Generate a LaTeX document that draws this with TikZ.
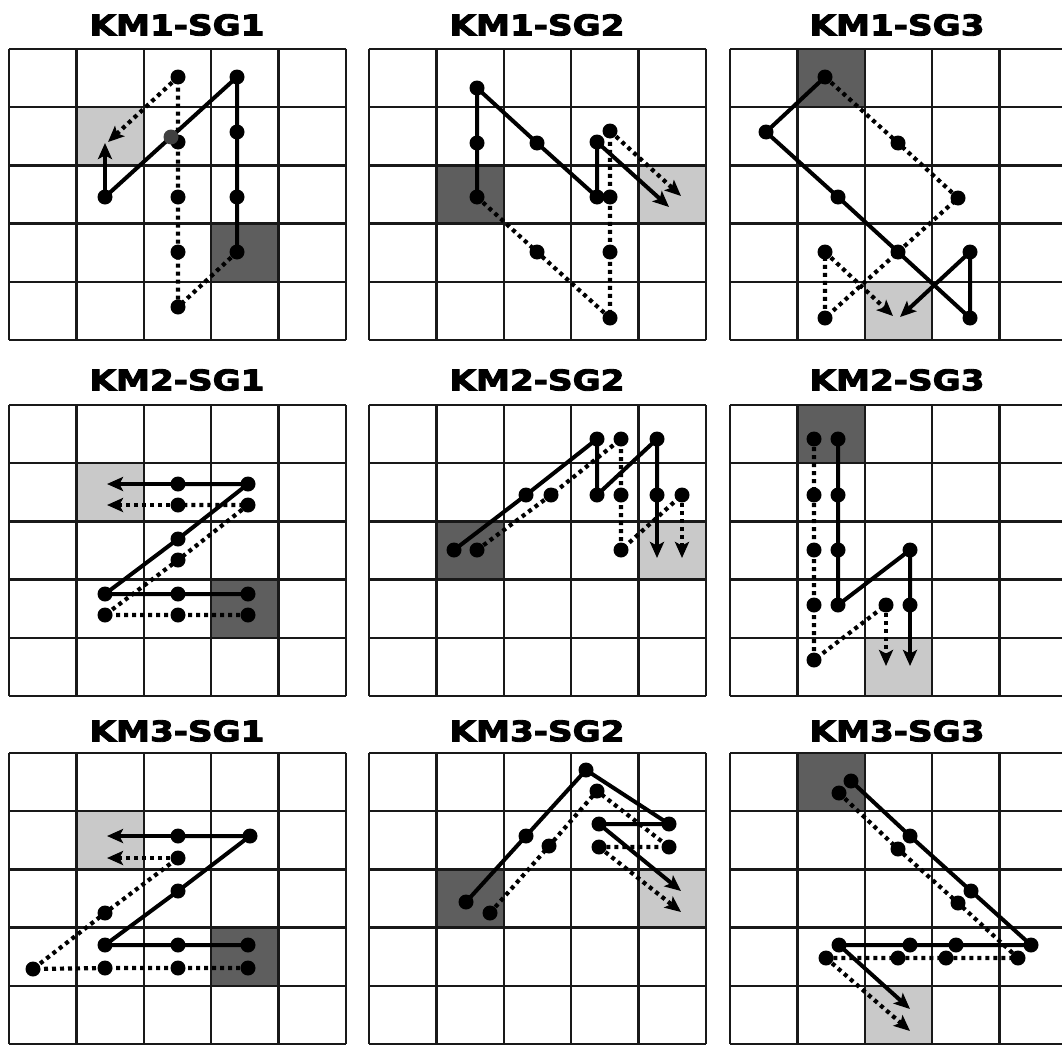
\documentclass[tikz,border=0pt]{standalone}
\usepackage{graphicx}
\usepackage{fontspec}
\usetikzlibrary{arrows.meta}
\newfontfamily\titlefont{DejaVu Sans}[BoldFeatures={FakeBold=3}]
\definecolor{darkcell}{HTML}{5E5E5E}
\definecolor{lightcell}{HTML}{C9C9C9}
\newcommand\cw{67.4}
\newcommand\ch{58.2}
\newcommand\panelgrid[2]{%
  \foreach \i in {0,...,5}{%
    \draw[gridline] ({#1+\i*\cw},#2) -- ({#1+\i*\cw},{#2+5*\ch});
    \draw[gridline] (#1,{#2+\i*\ch}) -- ({#1+5*\cw},{#2+\i*\ch});
  }}
\newcommand\shadecell[5]{% x0 y0 col row colour
  \fill[#5] ({#1+#3*\cw},{#2+#4*\ch}) rectangle ({#1+(#3+1)*\cw},{#2+(#4+1)*\ch});}
\newcommand\ttl[1]{\scalebox{1.2}[1]{\titlefont\bfseries\fontsize{28.5}{28.5}\selectfont #1}}
\begin{document}
\begin{tikzpicture}[x=1pt,y=-1pt,
  gridline/.style={line width=2.3pt,color=black!90},
  dot/.style={circle,fill=black,inner sep=0pt,minimum size=15pt},
  greydot/.style={dot,fill=black!75},
  solidln/.style={line width=4pt,line join=round},
  dotln/.style={line width=4.2pt,dash pattern=on 4pt off 4pt},
  arr/.style={-{Stealth[length=16pt,width=14pt,inset=3.5pt]}},
  title/.style={inner sep=0pt,anchor=center}]
\fill[white] (0,0) rectangle (1062,1044);
\useasboundingbox (0,0) rectangle (1062,1044);
\begin{scope}
\clip (0,0) rectangle (1062,1044);
% shaded cells
\shadecell{9}{49}{1}{1}{lightcell}
\shadecell{9}{49}{3}{3}{darkcell}
\shadecell{369}{49}{1}{2}{darkcell}
\shadecell{369}{49}{4}{2}{lightcell}
\shadecell{730}{49}{1}{0}{darkcell}
\shadecell{730}{49}{2}{4}{lightcell}
\shadecell{9}{405}{1}{1}{lightcell}
\shadecell{9}{405}{3}{3}{darkcell}
\shadecell{369}{405}{1}{2}{darkcell}
\shadecell{369}{405}{4}{2}{lightcell}
\shadecell{730}{405}{1}{0}{darkcell}
\shadecell{730}{405}{2}{4}{lightcell}
\shadecell{9}{753}{1}{1}{lightcell}
\shadecell{9}{753}{3}{3}{darkcell}
\shadecell{369}{753}{1}{2}{darkcell}
\shadecell{369}{753}{4}{2}{lightcell}
\shadecell{730}{753}{1}{0}{darkcell}
\shadecell{730}{753}{2}{4}{lightcell}
% grids
\panelgrid{9}{49}\panelgrid{369}{49}\panelgrid{730}{49}
\panelgrid{9}{405}\panelgrid{369}{405}\panelgrid{730}{405}
\panelgrid{9}{753}\panelgrid{369}{753}\panelgrid{730}{753}
\end{scope}
% titles
\node[title] (t11) at (177,25) {\ttl{KM1-SG1}};
\node[title] (t12) at (537,25) {\ttl{KM1-SG2}};
\node[title] (t13) at (897,25) {\ttl{KM1-SG3}};
\node[title] (t21) at (177,380) {\ttl{KM2-SG1}};
\node[title] (t22) at (537,380) {\ttl{KM2-SG2}};
\node[title] (t23) at (897,380) {\ttl{KM2-SG3}};
\node[title] (t31) at (177,731) {\ttl{KM3-SG1}};
\node[title] (t32) at (537,731) {\ttl{KM3-SG2}};
\node[title] (t33) at (897,731) {\ttl{KM3-SG3}};

% ---------- Panel KM1-SG1 ----------
\coordinate (A1) at (237,252); \coordinate (A2) at (237,197);
\coordinate (A3) at (237,132); \coordinate (A4) at (237,77);
\coordinate (A5) at (171,137); \coordinate (A6) at (105,197);
\coordinate (A7) at (105,143);
\coordinate (B1) at (178,307); \coordinate (B2) at (178,252);
\coordinate (B3) at (178,197); \coordinate (B4) at (178,142);
\coordinate (B5) at (178,77);  \coordinate (B6) at (108,142);
\draw[dotln] (A1) -- (B1) -- (B2) -- (B3) -- (B4) -- (B5);
\draw[dotln,arr] (B5) -- (B6);
\draw[solidln] (A1) -- (A2) -- (A3) -- (A4) -- (A5) -- (A6);
\draw[solidln,arr] (A6) -- (A7);
\foreach \p in {B1,B2,B3,B4,B5,A1,A2,A3,A4,A6} \node[dot] at (\p) {};
\node[greydot] (A5d) at (A5) {};

% ---------- Panel KM1-SG2 ----------
\coordinate (C1) at (477,197); \coordinate (C2) at (477,143);
\coordinate (C3) at (477,88);  \coordinate (C4) at (537,143);
\coordinate (C5) at (597,197); \coordinate (C6) at (597,142);
\coordinate (C7) at (669,207);
\coordinate (D1) at (537,252); \coordinate (D2) at (610,318);
\coordinate (D3) at (610,252); \coordinate (D4) at (610,197);
\coordinate (D5) at (610,131); \coordinate (D6) at (681,196);
\draw[dotln] (C1) -- (D1) -- (D2) -- (D3) -- (D4) -- (D5);
\draw[dotln,arr] (D5) -- (D6);
\draw[solidln] (C1) -- (C2) -- (C3) -- (C4) -- (C5) -- (C6);
\draw[solidln,arr] (C6) -- (C7);
\foreach \p in {C1,C2,C3,C4,C5,C6,D1,D2,D3,D4,D5} \node[dot] at (\p) {};

% ---------- Panel KM1-SG3 ----------
\coordinate (E1) at (825,77);  \coordinate (E2) at (766,132);
\coordinate (E3) at (838,197); \coordinate (E4) at (898,252);
\coordinate (E5) at (970,318); \coordinate (E6) at (970,252);
\coordinate (E7) at (900,317);
\coordinate (F1) at (898,143); \coordinate (F2) at (958,198);
\coordinate (F3) at (825,318); \coordinate (F4) at (825,252);
\coordinate (F5) at (893,316);
\draw[dotln] (E1) -- (F1) -- (F2) -- (E4) -- (F3) -- (F4);
\draw[dotln,arr] (F4) -- (F5);
\draw[solidln] (E1) -- (E2) -- (E3) -- (E4) -- (E5) -- (E6);
\draw[solidln,arr] (E6) -- (E7);
\foreach \p in {E1,E2,E3,E4,E5,E6,F1,F2,F3,F4} \node[dot] at (\p) {};

% ---------- Panel KM2-SG1 ----------
\coordinate (G1) at (248,594); \coordinate (G2) at (178,594);
\coordinate (G3) at (105,594); \coordinate (G4) at (178,539);
\coordinate (G5) at (248,484); \coordinate (G6) at (178,484);
\coordinate (G7) at (107,484);
\coordinate (H1) at (248,615); \coordinate (H2) at (178,615);
\coordinate (H3) at (105,615); \coordinate (H4) at (178,560);
\coordinate (H5) at (248,505); \coordinate (H6) at (178,505);
\coordinate (H7) at (107,505);
\draw[dotln] (H1) -- (H2) -- (H3) -- (H4) -- (H5) -- (H6);
\draw[dotln,arr] (H6) -- (H7);
\draw[solidln] (G1) -- (G2) -- (G3) -- (G4) -- (G5) -- (G6);
\draw[solidln,arr] (G6) -- (G7);
\foreach \p in {G1,G2,G3,G4,G5,G6,H1,H2,H3,H4,H5,H6} \node[dot] at (\p) {};

% ---------- Panel KM2-SG2 ----------
\coordinate (I1) at (454,550); \coordinate (I2) at (526,495);
\coordinate (I3) at (597,439); \coordinate (I4) at (597,495);
\coordinate (I5) at (657,439); \coordinate (I6) at (657,495);
\coordinate (I7) at (657,558);
\coordinate (J1) at (477,550); \coordinate (J2) at (551,495);
\coordinate (J3) at (621,439); \coordinate (J4) at (621,495);
\coordinate (J5) at (621,550); \coordinate (J6) at (682,495);
\coordinate (J7) at (682,558);
\draw[dotln] (J1) -- (J2) -- (J3) -- (J4) -- (J5) -- (J6);
\draw[dotln,arr] (J6) -- (J7);
\draw[solidln] (I1) -- (I2) -- (I3) -- (I4) -- (I5) -- (I6);
\draw[solidln,arr] (I6) -- (I7);
\foreach \p in {I1,I2,I3,I4,I5,I6,J1,J2,J3,J4,J5,J6} \node[dot] at (\p) {};

% ---------- Panel KM2-SG3 ----------
\coordinate (K1) at (838,439); \coordinate (K2) at (838,495);
\coordinate (K3) at (838,550); \coordinate (K4) at (838,605);
\coordinate (K5) at (910,550); \coordinate (K6) at (910,605);
\coordinate (K7) at (910,666);
\coordinate (L1) at (814,439); \coordinate (L2) at (814,495);
\coordinate (L3) at (814,550); \coordinate (L4) at (814,605);
\coordinate (L5) at (814,660); \coordinate (L6) at (886,605);
\coordinate (L7) at (886,666);
\draw[dotln] (L1) -- (L2) -- (L3) -- (L4) -- (L5) -- (L6);
\draw[dotln,arr] (L6) -- (L7);
\draw[solidln] (K1) -- (K2) -- (K3) -- (K4) -- (K5) -- (K6);
\draw[solidln,arr] (K6) -- (K7);
\foreach \p in {K1,K2,K3,K4,K5,K6,L1,L2,L3,L4,L5,L6} \node[dot] at (\p) {};

% ---------- Panel KM3-SG1 ----------
\coordinate (M1) at (248,945); \coordinate (M2) at (178,945);
\coordinate (M3) at (105,945); \coordinate (M4) at (178,891);
\coordinate (M5) at (250,836); \coordinate (M6) at (178,836);
\coordinate (M7) at (107,836);
\coordinate (N1) at (248,968); \coordinate (N2) at (178,968);
\coordinate (N3) at (105,968); \coordinate (N4) at (33,969);
\coordinate (N5) at (105,913); \coordinate (N6) at (178,858);
\coordinate (N7) at (107,858);
\draw[dotln] (N1) -- (N2) -- (N3) -- (N4) -- (N5) -- (N6);
\draw[dotln,arr] (N6) -- (N7);
\draw[solidln] (M1) -- (M2) -- (M3) -- (M4) -- (M5) -- (M6);
\draw[solidln,arr] (M6) -- (M7);
\foreach \p in {M1,M2,M3,M4,M5,M6,N1,N2,N3,N4,N5,N6} \node[dot] at (\p) {};

% ---------- Panel KM3-SG2 ----------
\coordinate (O1) at (466,902); \coordinate (O2) at (526,836);
\coordinate (O3) at (586,770); \coordinate (O4) at (669,824);
\coordinate (O5) at (599,824); \coordinate (O6) at (681,891);
\coordinate (P1) at (490,913); \coordinate (P2) at (549,846);
\coordinate (P3) at (597,791); \coordinate (P4) at (669,847);
\coordinate (P5) at (599,847); \coordinate (P6) at (681,912);
\draw[dotln] (P1) -- (P2) -- (P3) -- (P4) -- (P5);
\draw[dotln,arr] (P5) -- (P6);
\draw[solidln] (O1) -- (O2) -- (O3) -- (O4) -- (O5);
\draw[solidln,arr] (O5) -- (O6);
\foreach \p in {O1,O2,O3,O4,O5,P1,P2,P3,P4,P5} \node[dot] at (\p) {};

% ---------- Panel KM3-SG3 ----------
\coordinate (Q1) at (851,781); \coordinate (Q2) at (910,836);
\coordinate (Q3) at (971,891); \coordinate (Q4) at (1031,945);
\coordinate (Q5) at (956,945); \coordinate (Q6) at (910,945);
\coordinate (Q7) at (839,945); \coordinate (Q8) at (910,1009);
\coordinate (R1) at (839,793); \coordinate (R2) at (898,849);
\coordinate (R3) at (958,903); \coordinate (R4) at (1018,958);
\coordinate (R5) at (946,958); \coordinate (R6) at (898,958);
\coordinate (R7) at (826,958); \coordinate (R8) at (910,1031);
\draw[dotln] (R1) -- (R2) -- (R3) -- (R4) -- (R5) -- (R6) -- (R7);
\draw[dotln,arr] (R7) -- (R8);
\draw[solidln] (Q1) -- (Q2) -- (Q3) -- (Q4) -- (Q5) -- (Q6) -- (Q7);
\draw[solidln,arr] (Q7) -- (Q8);
\foreach \p in {Q1,Q2,Q3,Q4,Q5,Q6,Q7,R1,R2,R3,R4,R5,R6,R7} \node[dot] at (\p) {};
\end{tikzpicture}
\end{document}
